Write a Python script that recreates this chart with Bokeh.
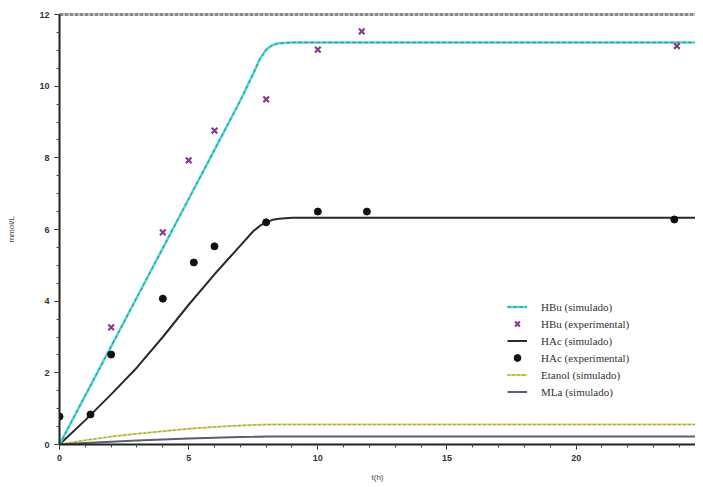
from bokeh.plotting import figure
from bokeh.models import (ColumnDataSource, LinearAxis, SingleIntervalTicker, FixedTicker,
                          Legend, LegendItem, Range1d)
from bokeh.embed import file_html
from bokeh.resources import INLINE

# ---------------- data ----------------
t_sim = [0, 1, 2, 3, 4, 5, 6, 7, 7.5, 7.75, 8, 8.25, 8.5, 9, 10, 12, 15, 20, 24.9]
hbu_sim = [0, 1.37, 2.74, 4.11, 5.48, 6.85, 8.22, 9.6, 10.35, 10.75, 11.02, 11.15, 11.2, 11.22,
           11.22, 11.22, 11.22, 11.22, 11.22]
hac_sim = [0, 0.68, 1.4, 2.15, 3.0, 3.9, 4.75, 5.55, 5.95, 6.1, 6.2, 6.27, 6.3, 6.33,
           6.33, 6.33, 6.33, 6.33, 6.33]
etanol_sim = [0, 0.12, 0.22, 0.3, 0.37, 0.44, 0.49, 0.53, 0.545, 0.55, 0.555, 0.558, 0.56, 0.56,
              0.56, 0.56, 0.56, 0.56, 0.56]
mla_sim = [0, 0.04, 0.08, 0.11, 0.14, 0.17, 0.19, 0.21, 0.215, 0.218, 0.22, 0.22, 0.22, 0.22,
           0.22, 0.22, 0.22, 0.22, 0.22]

t_hbu_exp = [2, 4, 5, 6, 8, 10, 11.7, 23.9]
hbu_exp = [3.27, 5.92, 7.93, 8.76, 9.63, 11.02, 11.53, 11.12]

t_hac_exp = [0, 1.2, 2, 4, 5.2, 6, 8, 10, 11.9, 23.8]
hac_exp = [0.78, 0.84, 2.51, 4.07, 5.08, 5.53, 6.2, 6.5, 6.5, 6.28]

x_label = "t(h)"
y_label = "mmol/L"
labels = ["HBu (simulado)", "HBu (experimental)", "HAc (simulado)",
          "HAc (experimental)", "Etanol (simulado)", "MLa (simulado)"]

# ---------------- figure ----------------
p = figure(width=695, height=484, output_backend="svg", toolbar_location=None,
           x_range=Range1d(0, 24.62), y_range=Range1d(0, 12),
           x_axis_type=None, y_axis_type=None,
           min_border_left=59, min_border_right=0, min_border_top=14, min_border_bottom=36)
p.outline_line_color = None
p.xgrid.visible = False
p.ygrid.visible = False
p.background_fill_color = "white"

tick_font = "Liberation Sans"

xaxis = LinearAxis(ticker=SingleIntervalTicker(interval=5, num_minor_ticks=5),
                   axis_label=x_label)
yaxis = LinearAxis(ticker=SingleIntervalTicker(interval=2, num_minor_ticks=4),
                   axis_label=y_label)
for ax in (xaxis, yaxis):
    ax.axis_line_width = 2
    ax.axis_line_color = "#222222"
    ax.major_tick_line_color = "#222222"
    ax.minor_tick_line_color = "#444444"
    ax.major_tick_in = 0
    ax.major_tick_out = 5
    ax.minor_tick_in = 0
    ax.minor_tick_out = 3
    ax.major_label_text_font = tick_font
    ax.major_label_text_font_size = "9px"
    ax.major_label_text_font_style = "bold"
    ax.major_label_text_color = "#333333"
    ax.axis_label_text_font = tick_font
    ax.axis_label_text_font_size = "8px"
    ax.axis_label_text_font_style = "normal"
    ax.axis_label_text_color = "#444444"
xaxis.major_label_standoff = 5
xaxis.axis_label_standoff = 9
yaxis.major_label_standoff = 5
yaxis.axis_label_standoff = 20
p.add_layout(xaxis, "below")
p.add_layout(yaxis, "left")

top = LinearAxis(ticker=FixedTicker(ticks=[]))
top.axis_line_color = "#8a8a8a"
top.axis_line_width = 3
top.axis_line_dash = "4 1"
top.major_tick_line_color = None
top.minor_tick_line_color = None
top.major_label_standoff = 0
p.add_layout(top, "above")

src = ColumnDataSource(dict(t=t_sim, hbu=hbu_sim, hac=hac_sim, et=etanol_sim, mla=mla_sim))
src_hbu = ColumnDataSource(dict(t=t_hbu_exp, y=hbu_exp))
src_hac = ColumnDataSource(dict(t=t_hac_exp, y=hac_exp))

r_et = p.line("t", "et", source=src, line_color="#d8d85a", line_width=2)
r_et2 = p.line("t", "et", source=src, line_color="#8a8a70", line_width=1, line_dash="2 3")
r_mla = p.line("t", "mla", source=src, line_color="#5c5c74", line_width=2)
r_hac = p.line("t", "hac", source=src, line_color="#2a2a2a", line_width=2)
r_hbu = p.line("t", "hbu", source=src, line_color="#3fdcdc", line_width=2.5)
r_hbu2 = p.line("t", "hbu", source=src, line_color="#6a6a6a", line_width=1, line_dash="3 3")

r_hbu_exp = p.scatter("t", "y", source=src_hbu, marker="x", size=8, line_width=2.2,
                      line_color="#8b3a8b")
r_hac_exp = p.scatter("t", "y", source=src_hac, marker="circle", size=7,
                      fill_color="#111111", line_color="#111111")

legend = Legend(items=[
    LegendItem(label=labels[0], renderers=[r_hbu, r_hbu2]),
    LegendItem(label=labels[1], renderers=[r_hbu_exp]),
    LegendItem(label=labels[2], renderers=[r_hac]),
    LegendItem(label=labels[3], renderers=[r_hac_exp]),
    LegendItem(label=labels[4], renderers=[r_et, r_et2]),
    LegendItem(label=labels[5], renderers=[r_mla]),
], location=(448, 44))
legend.border_line_color = None
legend.background_fill_alpha = 0
legend.padding = 0
legend.margin = 0
legend.spacing = 0
legend.label_height = 17
legend.glyph_height = 17
legend.glyph_width = 20
legend.label_standoff = 14
legend.label_text_font = "Liberation Serif"
legend.label_text_font_size = "11px"
legend.label_text_color = "#333333"
p.add_layout(legend, "center")

open("out.html", "w").write(file_html(p, INLINE))
